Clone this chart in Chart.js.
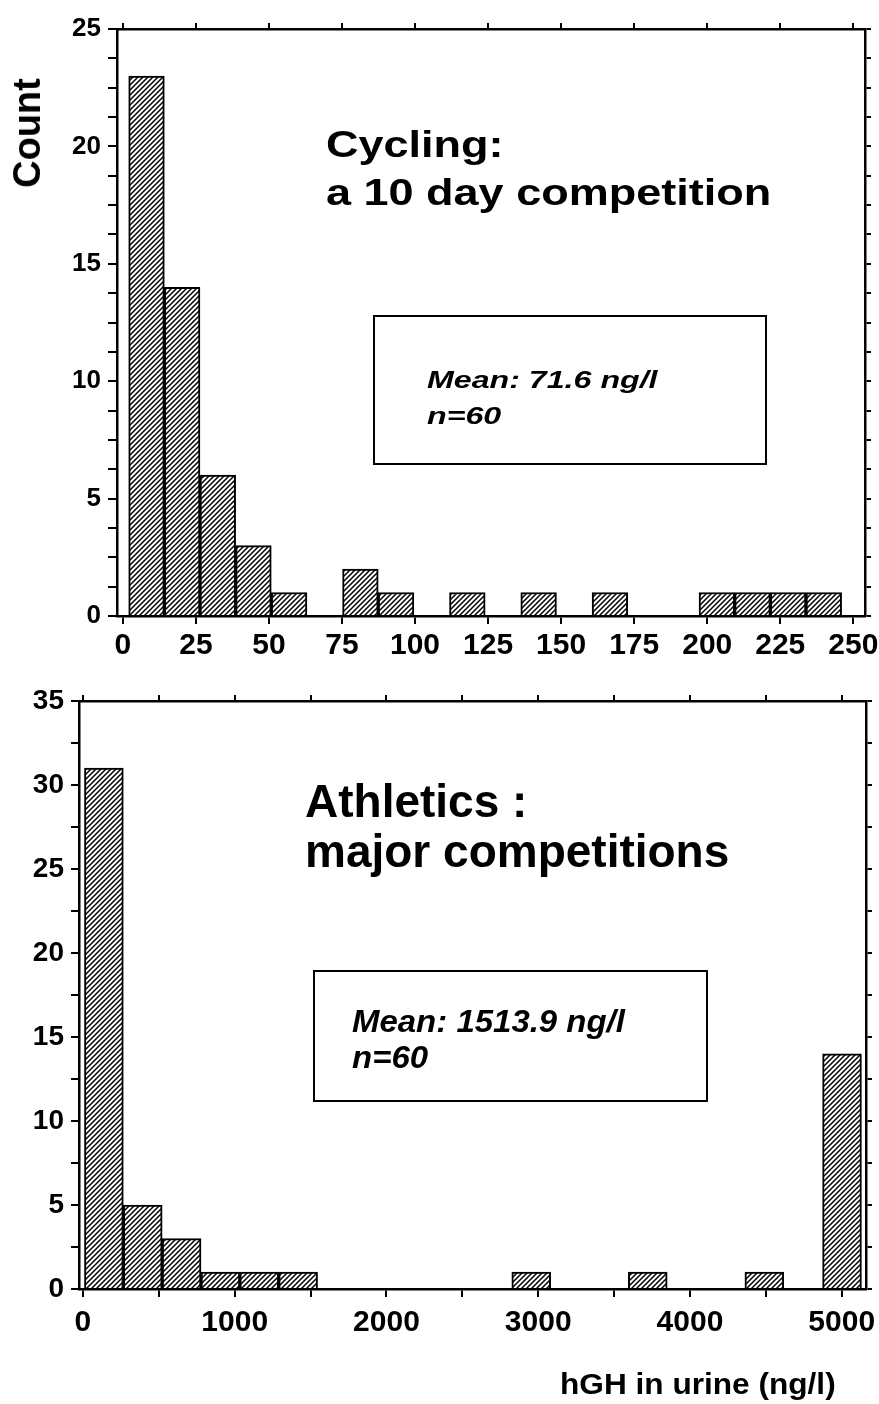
<!DOCTYPE html>
<html>
<head>
<meta charset="utf-8">
<script src="https://cdn.jsdelivr.net/npm/chart.js@4.4.1/dist/chart.umd.min.js"></script>
<style>
    body { margin: 0; background: #fff; width: 879px; height: 1404px; position: relative; overflow: hidden;
           font-family: 'Liberation Sans', Arial, Helvetica, sans-serif; color: #000; }
    canvas { position: absolute; left: 0; }
    #cycling { top: 0; }
    #athletics { top: 680px; }
    .t { position: absolute; font-weight: bold; white-space: nowrap; line-height: 1; transform-origin: 0 0; }
    .i { font-style: italic; }
    .box { position: absolute; box-sizing: border-box; border: 2px solid #000; }
</style>
</head>
<body>
<canvas id="cycling" width="879" height="680"></canvas>
<canvas id="athletics" width="879" height="724"></canvas>

<div class="t" style="left:27px;top:133px;font-size:38px;transform-origin:50% 50%;transform:translate(-50%,-50%) rotate(-90deg);">Count</div>

<div class="t" style="left:326px;top:127px;font-size:36px;transform:scaleX(1.25);">Cycling:</div>
<div class="t" style="left:326px;top:175px;font-size:36px;transform:scaleX(1.25);">a 10 day competition</div>
<div class="box" style="left:373px;top:315px;width:394px;height:150px;"></div>
<div class="t i" style="left:427px;top:368px;font-size:24px;transform:scaleX(1.34);">Mean: 71.6 ng/l</div>
<div class="t i" style="left:427px;top:404px;font-size:24px;transform:scaleX(1.34);">n=60</div>

<div class="t" style="left:305px;top:778px;font-size:46px;">Athletics :</div>
<div class="t" style="left:305px;top:828px;font-size:46px;">major competitions</div>
<div class="box" style="left:313px;top:970px;width:395px;height:132px;"></div>
<div class="t i" style="left:352px;top:1005px;font-size:32px;transform:scaleX(1.03);">Mean: 1513.9 ng/l</div>
<div class="t i" style="left:352px;top:1041px;font-size:32px;transform:scaleX(1.03);">n=60</div>

<div class="t" style="left:560px;top:1370px;font-size:29px;transform:scaleX(1.09);">hGH in urine (ng/l)</div>

<script>
// Cycling: lower bin edges (ng/l) and counts
const cyclingBins = [2, 14.2, 26.4, 38.6, 50.8, 63, 75.2, 87.4, 99.6, 111.8, 124, 136.2, 148.4, 160.6, 172.8, 185, 197.2, 209.4, 221.6, 233.8];
const cyclingCounts = [23, 14, 6, 3, 1, 0, 2, 1, 0, 1, 0, 1, 0, 1, 0, 0, 1, 1, 1, 1];
const cyclingBinWidth = 12.2;
const cyclingXTicks = [0, 25, 50, 75, 100, 125, 150, 175, 200, 225, 250];
const cyclingYLabels = [0, 5, 10, 15, 20, 25];

// Athletics: lower bin edges (ng/l) and counts
const athleticsBins = [10, 266, 522, 778, 1034, 1290, 1546, 1802, 2058, 2314, 2570, 2826, 3082, 3338, 3594, 3850, 4106, 4362, 4618, 4874];
const athleticsCounts = [31, 5, 3, 1, 1, 1, 0, 0, 0, 0, 0, 1, 0, 0, 1, 0, 0, 1, 0, 14];
const athleticsBinWidth = 256;
const athleticsXTicks = [0, 500, 1000, 1500, 2000, 2500, 3000, 3500, 4000, 4500, 5000];
const athleticsXLabels = [0, 1000, 2000, 3000, 4000, 5000];
const athleticsYLabels = [0, 5, 10, 15, 20, 25, 30, 35];

Chart.defaults.font.family = "'Liberation Sans', Arial, Helvetica, sans-serif";
Chart.defaults.color = '#000';

// Diagonal hatching like the printed figure
function makeHatch() {
    const c = document.createElement('canvas');
    c.width = 5;
    c.height = 5;
    const g = c.getContext('2d');
    g.fillStyle = '#fff';
    g.fillRect(0, 0, 5, 5);
    g.strokeStyle = '#000';
    g.lineWidth = 1.5;
    g.beginPath();
    g.moveTo(0, 5); g.lineTo(5, 0);
    g.moveTo(-1, 1); g.lineTo(1, -1);
    g.moveTo(4, 6); g.lineTo(6, 4);
    g.stroke();
    return g.createPattern(c, 'repeat');
}
const hatch = makeHatch();

function drawHistogram(id, p) {
    const bars = p.bins.map((start, i) => ({ x: start + p.binWidth / 2, y: p.counts[i] }));
    const grid = { drawOnChartArea: false, offset: false, color: '#000', lineWidth: 2 };
    const border = { color: '#000', width: 2.5 };
    const fixSize = (prop, value) => scale => {
        scale[prop] = value;
        scale.paddingLeft = scale.paddingRight = scale.paddingTop = scale.paddingBottom = 0;
    };
    const setTicks = values => scale => { scale.ticks = values.map(v => ({ value: v })); };
    const label = list => v => list.includes(v) ? String(v) : '';

    new Chart(document.getElementById(id), {
        type: 'bar',
        data: {
            datasets: [{
                data: bars,
                backgroundColor: hatch,
                borderColor: '#000',
                borderWidth: 2,
                barPercentage: 1,
                categoryPercentage: 1
            }]
        },
        options: {
            responsive: false,
            animation: false,
            layout: { padding: 0, autoPadding: false },
            plugins: { legend: { display: false }, tooltip: { enabled: false } },
            scales: {
                x: {
                    type: 'linear', position: 'bottom', min: p.xMin, max: p.xMax, offset: false,
                    border, grid: { ...grid, tickLength: 8 },
                    ticks: { font: { size: 30, weight: 'bold' }, padding: p.xPad, autoSkip: false, maxRotation: 0,
                             callback: label(p.xLabels) },
                    afterBuildTicks: setTicks(p.xTicks),
                    afterFit: fixSize('height', p.bottom)
                },
                x2: {
                    type: 'linear', position: 'top', min: p.xMin, max: p.xMax, offset: false,
                    border, grid: { ...grid, tickLength: 6 },
                    ticks: { display: false },
                    afterBuildTicks: setTicks(p.xTicks),
                    afterFit: fixSize('height', p.top)
                },
                y: {
                    position: 'left', min: 0, max: p.yMax,
                    border, grid: { ...grid, tickLength: p.yTickLen },
                    ticks: { stepSize: p.yStep, font: { size: p.yFont, weight: 'bold' }, padding: p.yPad,
                             autoSkip: false, callback: label(p.yLabels) },
                    afterFit: fixSize('width', p.left)
                },
                y2: {
                    position: 'right', min: 0, max: p.yMax,
                    border, grid: { ...grid, tickLength: 6 },
                    ticks: { stepSize: p.yStep, display: false },
                    afterFit: fixSize('width', p.right)
                }
            }
        }
    });
}

drawHistogram('cycling', {
    bins: cyclingBins, counts: cyclingCounts, binWidth: cyclingBinWidth,
    xMin: -2, xMax: 254, xTicks: cyclingXTicks, xLabels: cyclingXTicks, xPad: 4,
    yMax: 25, yStep: 1.25, yLabels: cyclingYLabels, yFont: 26, yPad: 7, yTickLen: 9,
    left: 117, right: 14, top: 29, bottom: 64
});

drawHistogram('athletics', {
    bins: athleticsBins, counts: athleticsCounts, binWidth: athleticsBinWidth,
    xMin: -26, xMax: 5160, xTicks: athleticsXTicks, xLabels: athleticsXLabels, xPad: 8,
    yMax: 35, yStep: 2.5, yLabels: athleticsYLabels, yFont: 28, yPad: 7, yTickLen: 8,
    left: 79, right: 13, top: 21, bottom: 115
});
</script>
</body>
</html>
